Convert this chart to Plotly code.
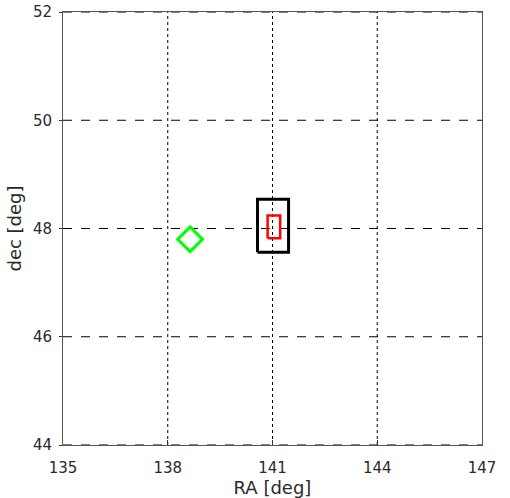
import plotly.graph_objects as go

# data
x_ticks = [135, 138, 141, 144, 147]
y_ticks = [44, 46, 48, 50, 52]
x_range = [135, 147]
y_range = [44, 52]

black_box_ra = [140.57, 141.46]
black_box_dec = [47.56, 48.54]
red_box_ra = [140.86, 141.22]
red_box_dec = [47.82, 48.24]
green_ra = [138.64]
green_dec = [47.80]


def box(xr, yr):
    xs = [xr[0], xr[1], xr[1], xr[0], xr[0]]
    ys = [yr[0], yr[0], yr[1], yr[1], yr[0]]
    return xs, ys


fig = go.Figure()
bx, by = box(black_box_ra, black_box_dec)
fig.add_trace(go.Scatter(x=bx, y=by, mode="lines", line=dict(color="black", width=3), showlegend=False))
rx, ry = box(red_box_ra, red_box_dec)
fig.add_trace(go.Scatter(x=rx, y=ry, mode="lines", line=dict(color="#ff0000", width=2.5), showlegend=False))
fig.add_trace(go.Scatter(x=green_ra, y=green_dec, mode="markers",
                         marker=dict(symbol="diamond-open", size=19, color="#00ff00",
                                     line=dict(color="#00ff00", width=3)),
                         showlegend=False))

# grid lines
for xv in x_ticks[1:-1]:
    fig.add_shape(type="line", xref="x", yref="paper", x0=xv, x1=xv, y0=0, y1=1,
                  line=dict(color="black", width=1, dash="dot"), layer="below")
for yv in y_ticks:
    fig.add_shape(type="line", xref="paper", yref="y", x0=0, x1=1, y0=yv, y1=yv,
                  line=dict(color="black", width=1, dash="dash"), layer="below")

font = dict(family="DejaVu Sans", size=15, color="#2a2a2a")
fig.update_layout(
    width=510, height=498,
    margin=dict(l=63, r=28, t=12, b=53, autoexpand=False),
    paper_bgcolor="white", plot_bgcolor="white",
    font=font,
    xaxis=dict(range=x_range, tickvals=x_ticks, ticktext=[str(v) for v in x_ticks],
               showgrid=False, zeroline=False, showline=True, linecolor="#555555", linewidth=1,
               mirror=True, ticks="inside", ticklen=5, tickcolor="#333333",
               ticklabelstandoff=9, automargin=False, ticklabeloverflow="allow",
               title=dict(text="RA [deg]", standoff=8)),
    yaxis=dict(range=y_range, tickvals=y_ticks, ticktext=[str(v) for v in y_ticks],
               showgrid=False, zeroline=False, showline=True, linecolor="#555555", linewidth=1,
               mirror=True, ticks="outside", ticklen=3, tickcolor="#333333",
               ticklabelstandoff=4, automargin=False, ticklabeloverflow="allow",
               title=dict(text="dec [deg]", standoff=6)),
)

fig.write_html("out.html", config={"displayModeBar": False},
               post_script="document.body.style.margin='0';")
